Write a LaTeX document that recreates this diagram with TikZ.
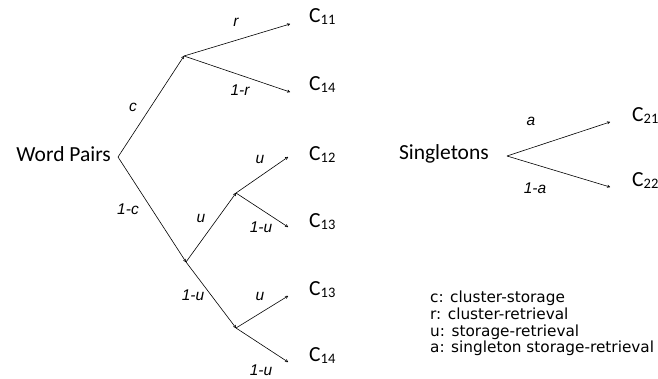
\documentclass[tikz,border=0pt]{standalone}
\usepackage{fontspec}
\setmainfont{Carlito}
\newfontfamily\labfont{Liberation Sans}
\newfontfamily\legfont{DejaVu Sans}
\usetikzlibrary{arrows.meta}
\newcommand{\csub}[1]{C\raisebox{-0.12em}{\fontsize{14.5}{15}\selectfont #1}}
\begin{document}
\begin{tikzpicture}[x=1pt,y=-1pt,
  br/.style={draw,line width=0.6pt,-{To[length=3pt,width=3pt]}},
  big/.style={font=\fontsize{21.5}{24}\selectfont,inner sep=0pt},
  cl/.style={big,anchor=base west},
  lab/.style={font=\labfont\itshape\fontsize{15.5}{17}\selectfont,inner sep=0pt},
  leg/.style={font=\legfont\fontsize{15.3}{16.6}\selectfont,inner sep=0pt,anchor=north west,align=left}]
\useasboundingbox (0,0) rectangle (658,378);
% coordinates
\coordinate (R) at (118,157);
\coordinate (A) at (184,56);
\coordinate (B) at (186,262);
\coordinate (D) at (236,193);
\coordinate (E) at (236,328);
\coordinate (t1) at (290,24);
\coordinate (t2) at (290,92);
\coordinate (t3) at (288,157);
\coordinate (t4) at (288,227);
\coordinate (t5) at (288,296);
\coordinate (t6) at (288,362);
\coordinate (S) at (507,156);
\coordinate (s1) at (610,122);
\coordinate (s2) at (610,187);
% texts
\node[big,anchor=east] (wp) at (111,154) {Word Pairs};
\node[cl] (c11) at (309,22) {\csub{11}};
\node[cl] (c14a) at (309,90) {\csub{14}};
\node[cl] (c12) at (309,160) {\csub{12}};
\node[cl] (c13a) at (309,227) {\csub{13}};
\node[cl] (c13b) at (309,295) {\csub{13}};
\node[cl] (c14b) at (309,361) {\csub{14}};
\node[big,anchor=east] (sg) at (489,154) {Singletons};
\node[cl] (c21) at (632,121) {\csub{21}};
\node[cl] (c22) at (632,186) {\csub{22}};
% branches
\draw[br] (R) -- (A);
\draw[br] (A) -- (t1);
\draw[br] (A) -- (t2);
\draw[br] (R) -- (B);
\draw[br] (B) -- (D);
\draw[br] (D) -- (t3);
\draw[br] (D) -- (t4);
\draw[br] (B) -- (E);
\draw[br] (E) -- (t5);
\draw[br] (E) -- (t6);
\draw[br] (S) -- (s1);
\draw[br] (S) -- (s2);
% labels
\node[lab] (lr) at (236,22) {r};
\node[lab] (l1r) at (240,90) {1-r};
\node[lab] (lc) at (133,107) {c};
\node[lab] (l1c) at (128,209) {1-c};
\node[lab] (lu1) at (201,218) {u};
\node[lab] (lu2) at (260,159) {u};
\node[lab] (l1u1) at (261,227) {1-u};
\node[lab] (l1u2) at (193,295) {1-u};
\node[lab] (lu3) at (260,296) {u};
\node[lab] (l1u3) at (261,370) {1-u};
\node[lab] (la) at (531,121) {a};
\node[lab] (l1a) at (535,188) {1-a};
% legend
\node[leg] (legend) at (430,291) {c: cluster-storage\\r: cluster-retrieval\\u: storage-retrieval\\a: singleton storage-retrieval};
\end{tikzpicture}
\end{document}
